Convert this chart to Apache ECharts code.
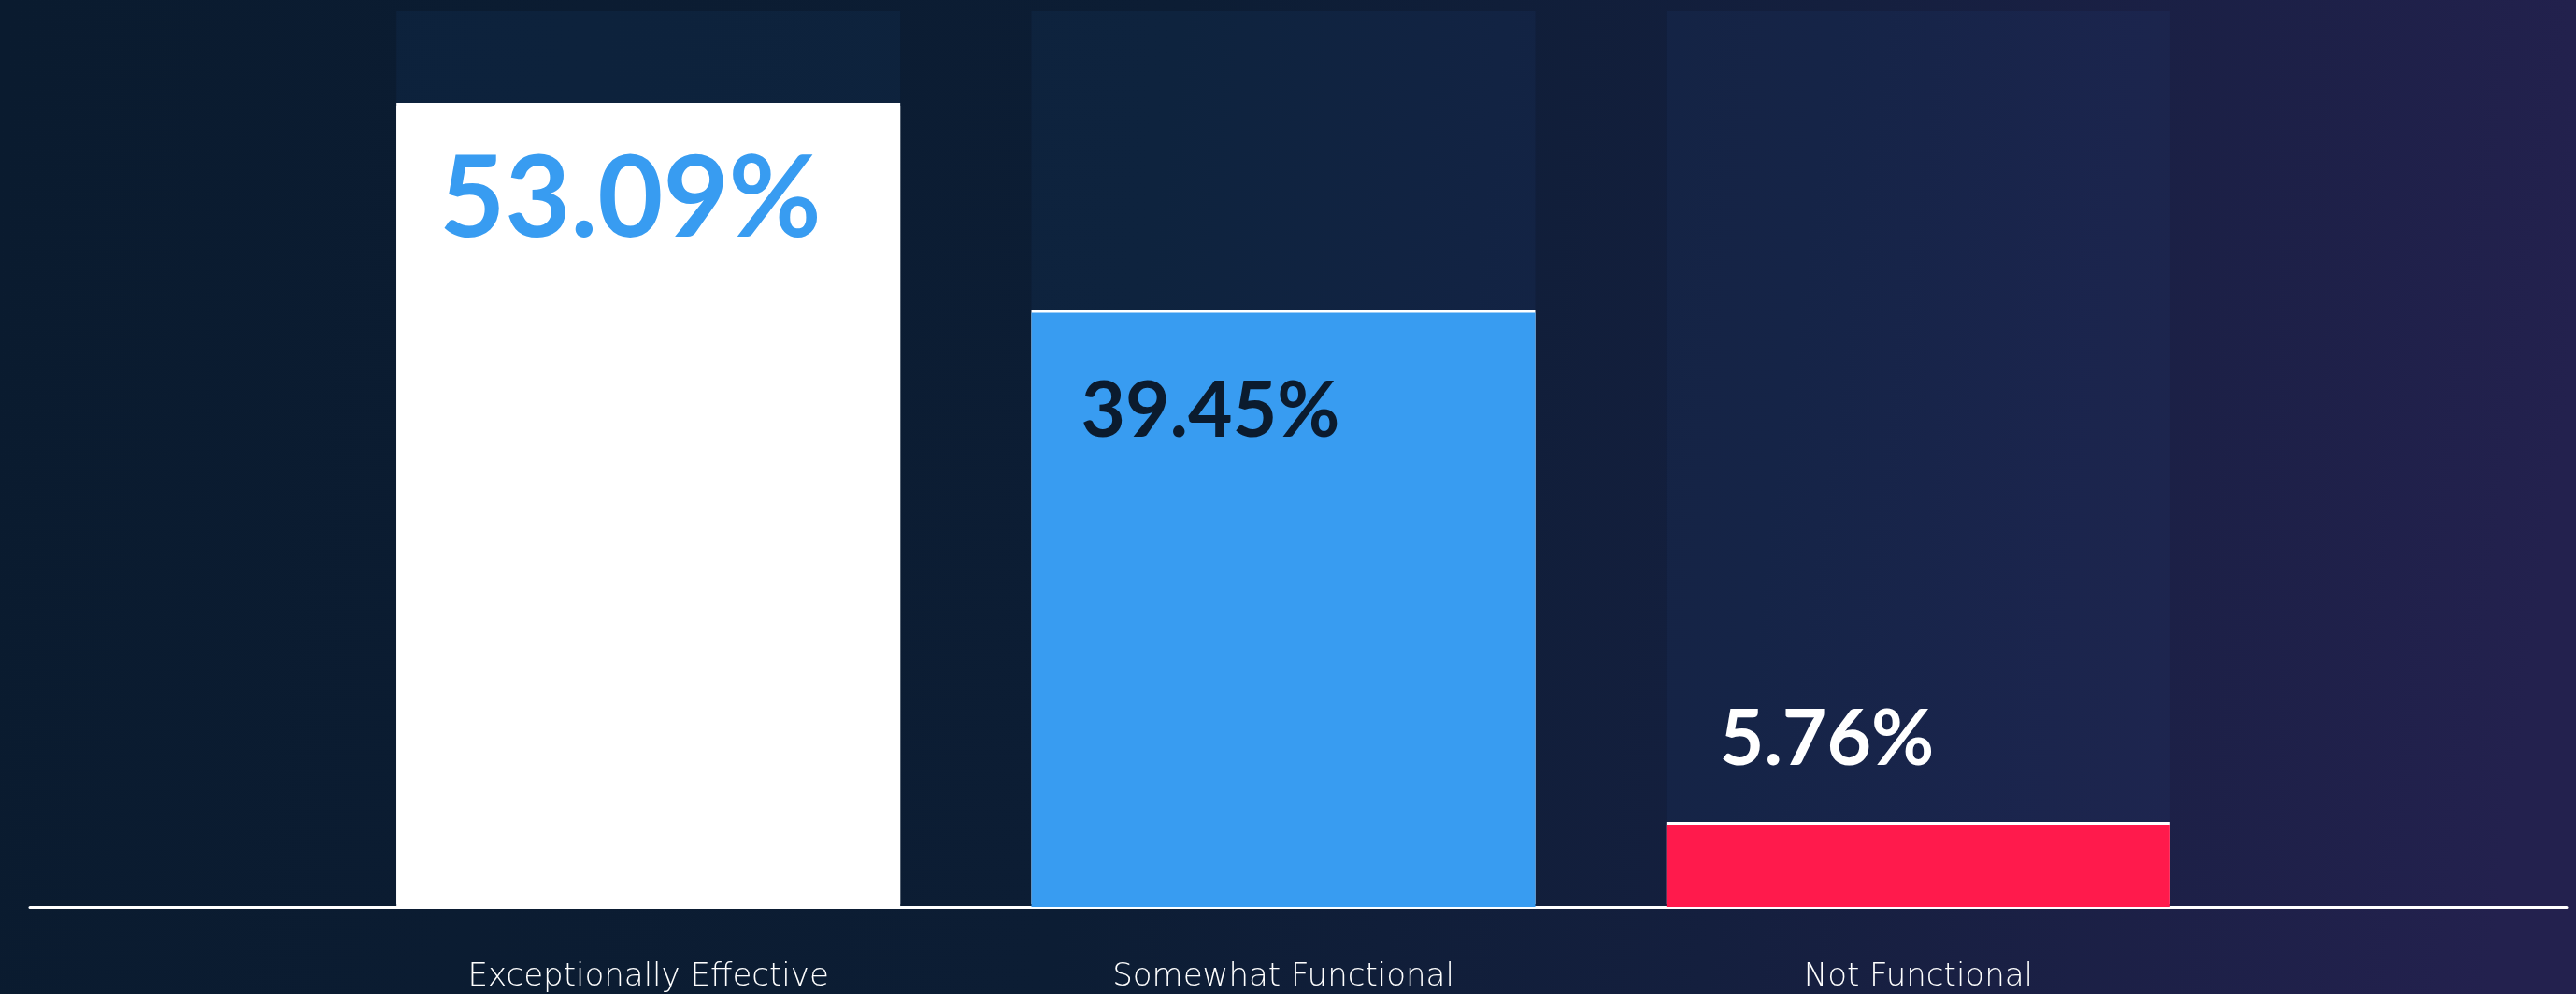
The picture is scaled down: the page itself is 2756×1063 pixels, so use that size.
<!DOCTYPE html>
<html>
<head>
<meta charset="utf-8">
<script src="https://cdn.jsdelivr.net/npm/echarts@6/dist/echarts.min.js"></script>
<style>
  html, body { margin: 0; padding: 0; }
  #chart { width: 2756px; height: 1063px; }
</style>
</head>
<body>
<div id="chart"></div>
<script>
// data
var categories = ['Exceptionally Effective', 'Somewhat Functional', 'Not Functional'];
var values = [53.09, 39.45, 5.76];
var barColors = ['#ffffff', '#389cf1', '#ff1a4c'];
var labelColors = ['#389cf1', '#0b1b2e', '#ffffff'];

var myChart = echarts.init(document.getElementById('chart'));

// label placement per bar (first two inside, last above)
var labelCfg = [
    {position: [46, 101], fontSize: 121},
    {position: [53, 106], fontSize: 82},
    {position: [57, -91], fontSize: 82}
];

var barData = values.map(function(v, i){
    return {
        value: v,
        itemStyle: {
            color: barColors[i],
            shadowColor: '#ffffff',
            shadowOffsetY: -3,
            shadowBlur: 0
        },
        label: {
            show: true,
            position: labelCfg[i].position,
            align: 'left',
            verticalAlign: 'middle',
            fontFamily: 'Lato',
            fontWeight: 'bold',
            fontSize: labelCfg[i].fontSize,
            color: labelColors[i],
            formatter: function(p){ return p.value.toFixed(2) + '%'; }
        }
    };
});

var option = {
    backgroundColor: {
        type: 'linear', x: 0, y: 0, x2: 1, y2: 0.35,
        colorStops: [
            {offset: 0, color: '#0a1b2f'},
            {offset: 0.45, color: '#0c1d34'},
            {offset: 0.7, color: '#141f3e'},
            {offset: 1, color: '#23214e'}
        ]
    },
    animation: false,
    grid: [
        {left: 354, right: 364, top: 12, bottom: 93},
        {left: 32, right: 10, top: 12, bottom: 93}
    ],
    xAxis: [
        {
            type: 'category',
            gridIndex: 0,
            data: categories,
            axisLine: {show: false},
            axisTick: {show: false},
            axisLabel: {
                margin: 58,
                color: '#ffffff',
                fontFamily: 'DejaVu Sans',
                fontWeight: 200,
                fontSize: 34
            }
        },
        {
            type: 'category',
            gridIndex: 1,
            data: [''],
            axisLine: {show: true, lineStyle: {color: '#ffffff', width: 3}},
            axisTick: {show: false},
            axisLabel: {show: false}
        }
    ],
    yAxis: [
        {type: 'value', gridIndex: 0, min: 0.35, max: 59.3, show: false},
        {type: 'value', gridIndex: 1, min: 0, max: 1, show: false}
    ],
    series: [
        {
            type: 'bar',
            xAxisIndex: 0,
            yAxisIndex: 0,
            barWidth: 539,
            showBackground: true,
            backgroundStyle: {color: 'rgba(40,85,160,0.1)'},
            data: barData,
            z: 3
        }
    ]
};

myChart.setOption(option);
</script>
</body>
</html>
